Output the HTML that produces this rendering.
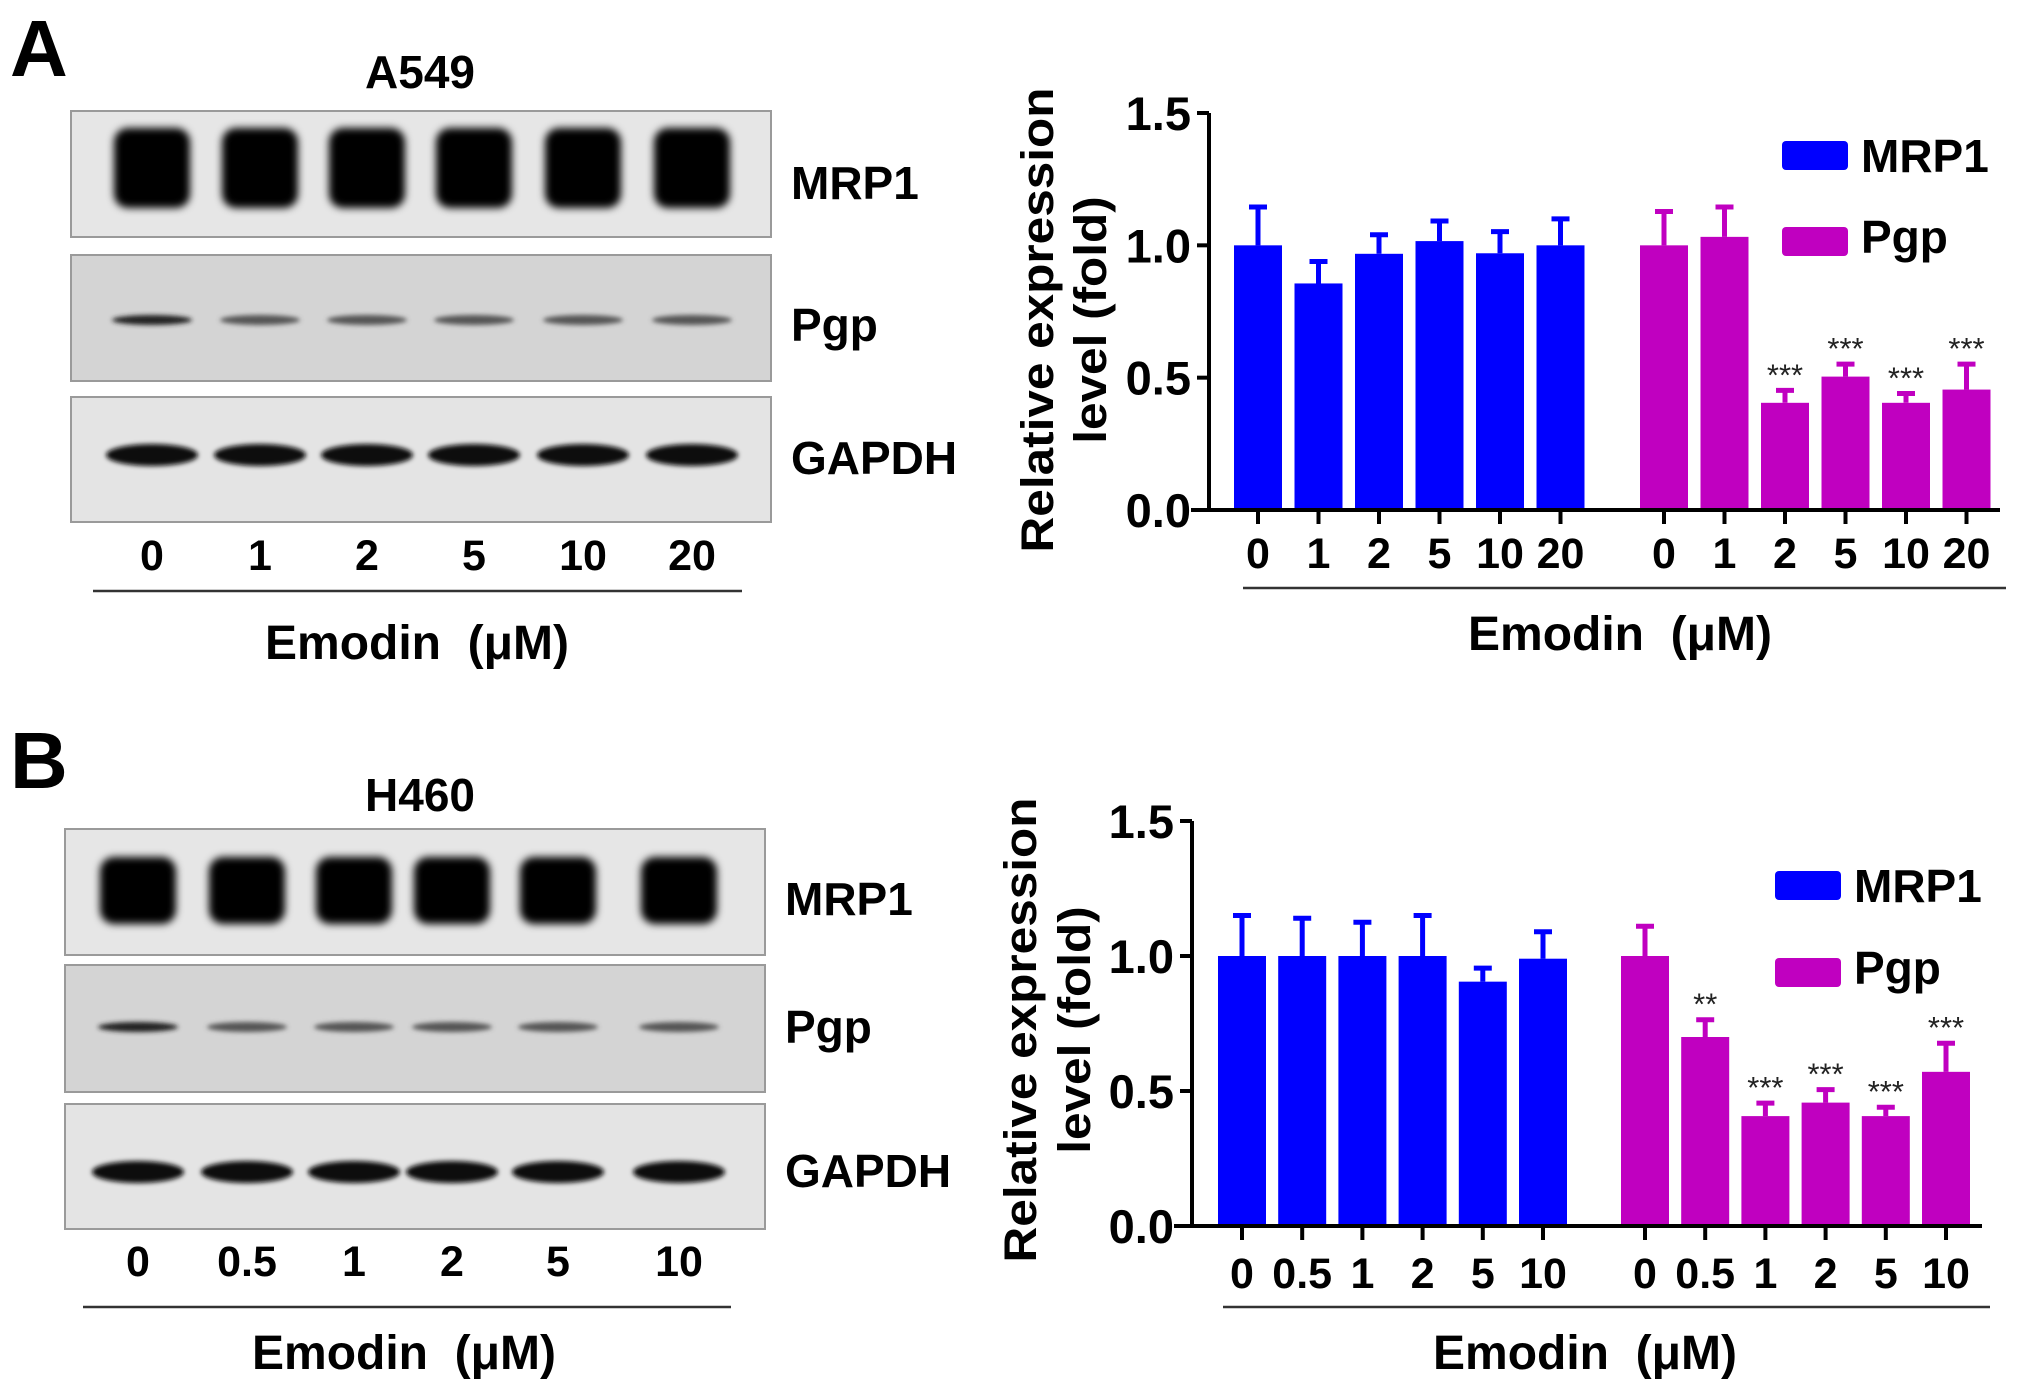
<!DOCTYPE html>
<html><head><meta charset="utf-8">
<style>
html,body{margin:0;padding:0;background:#fff;}
svg{display:block;font-family:"Liberation Sans",Arial,sans-serif;font-weight:bold;}
text{white-space:pre;}
</style></head>
<body>
<svg id="fig" width="2031" height="1389" viewBox="0 0 2031 1389" xmlns="http://www.w3.org/2000/svg">
<defs>
<filter id="blur4" x="-30%" y="-60%" width="160%" height="220%"><feGaussianBlur stdDeviation="4"/></filter>
<filter id="blur2" x="-30%" y="-100%" width="160%" height="300%"><feGaussianBlur stdDeviation="2.5"/></filter>
</defs>
<g id="root"></g>
</svg>
<script>
// ---------- Panel A data ----------
const aCategories = ["0","1","2","5","10","20"];
const aMrp1 = [1.0, 0.856, 0.968, 1.016, 0.97, 1.0];
const aMrp1Err = [1.145, 0.939, 1.04, 1.092, 1.052, 1.10];
const aPgp = [1.0, 1.032, 0.405, 0.504, 0.405, 0.455];
const aPgpErr = [1.128, 1.145, 0.452, 0.551, 0.44, 0.551];
const aPgpSig = ["", "", "***", "***", "***", "***"];
// ---------- Panel B data ----------
const bCategories = ["0","0.5","1","2","5","10"];
const bMrp1 = [1.0, 1.0, 1.0, 1.0, 0.905, 0.99];
const bMrp1Err = [1.15, 1.14, 1.125, 1.15, 0.955, 1.09];
const bPgp = [1.0, 0.70, 0.407, 0.457, 0.407, 0.571];
const bPgpErr = [1.11, 0.764, 0.455, 0.505, 0.44, 0.677];
const bPgpSig = ["", "**", "***", "***", "***", "***"];
const yTicks = [0, 0.5, 1.0, 1.5];
const yTickLabels = ["0.0", "0.5", "1.0", "1.5"];

const NS = "http://www.w3.org/2000/svg";
const root = document.getElementById("root");
function el(tag, attrs, parent, text) {
  const e = document.createElementNS(NS, tag);
  for (const k in attrs) e.setAttribute(k, attrs[k]);
  if (text !== undefined) e.textContent = text;
  (parent || root).appendChild(e);
  return e;
}

function chart(cfg) {
  const g = el("g", {});
  
  
  const y = v => cfg.y0 - (cfg.y0 - cfg.y15) * v / 1.5;
  const xM = i => cfg.m0 + i * cfg.step;
  const xP = i => cfg.p0 + i * cfg.step;
  const bw = 48;
  function series(vals, errs, xf, color, nm, sig) {
    vals.forEach((v, i) => {
      const cx = xf(i);
      const r = el("rect", {x: cx - bw/2, y: y(v), width: bw, height: cfg.y0 - y(v), fill: color}, g);
      
      
      const e = el("path", {d: `M${cx},${y(v)}V${y(errs[i])}M${cx-9},${y(errs[i])}H${cx+9}`, stroke: color, "stroke-width": 5, fill: "none"}, g);
      
      
      if (sig && sig[i]) {
        const s = el("text", {x: cx, y: y(errs[i]) - 5, "text-anchor": "middle", "font-size": 31, "font-weight": "normal", fill: "#222"}, g, sig[i]);
        
        
      }
    });
  }
  series(cfg.mrp, cfg.mrpErr, xM, "#0000ff", "mrp1", null);
  series(cfg.pgp, cfg.pgpErr, xP, "#c000c0", "pgp", cfg.sig);
  const ax = el("path", {d: `M${cfg.ax},${cfg.y15}V${cfg.y0}M${cfg.ax-18},${cfg.y0}H${cfg.xEnd}`, stroke: "#000", "stroke-width": 4, fill: "none"}, g);
  
  
  yTicks.forEach((t, i) => {
    el("path", {d: `M${cfg.ax-12},${y(t)}H${cfg.ax}`, stroke: "#000", "stroke-width": 4}, g);
    const tl = el("text", {x: cfg.ax - 18, y: y(t) + 17, "text-anchor": "end", "font-size": 47}, g, yTickLabels[i]);
    
    
  });
  cfg.cats.forEach((c, i) => {
    [xM(i), xP(i)].forEach(cx => {
      el("path", {d: `M${cx},${cfg.y0}V${cfg.y0+14}`, stroke: "#000", "stroke-width": 4}, g);
      const t = el("text", {x: cx, y: cfg.labY, "text-anchor": "middle", "font-size": 43}, g, c);
      
      
    });
  });
  el("path", {d: `M${cfg.ulx1},${cfg.ulY}H${cfg.ulx2}`, stroke: "#333", "stroke-width": 2.5}, g);
  const xt = el("text", {x: cfg.xtX, y: cfg.xtY, "text-anchor": "middle", "font-size": 48}, g, "Emodin  (μM)");
  
  
  const yc = cfg.ytc;
  const t1 = el("text", {x: 0, y: 0, "text-anchor": "middle", "font-size": 45, transform: `translate(${cfg.ytx1},${yc}) rotate(-90) scale(1.1,1)`}, g, "Relative expression");
  
  
  const t2 = el("text", {x: 0, y: 0, "text-anchor": "middle", "font-size": 45, transform: `translate(${cfg.ytx2},${yc}) rotate(-90) scale(1.1,1)`}, g, "level (fold)");
  
  
  const l1 = el("rect", {x: cfg.lgx, y: cfg.lgy1, width: 66, height: 29, rx: 4, fill: "#0000ff"}, g);
  
  
  const lt1 = el("text", {x: cfg.lgx + 79, y: cfg.lgy1 + 31, "font-size": 46}, g, "MRP1");
  
  
  const l2 = el("rect", {x: cfg.lgx, y: cfg.lgy2, width: 66, height: 29, rx: 4, fill: "#c000c0"}, g);
  
  
  const lt2 = el("text", {x: cfg.lgx + 79, y: cfg.lgy2 + 26, "font-size": 46}, g, "Pgp");
  
  
}

chart({name: "chart-a", cats: aCategories, mrp: aMrp1, mrpErr: aMrp1Err, pgp: aPgp, pgpErr: aPgpErr, sig: aPgpSig,
  ax: 1209, y0: 510, y15: 113, m0: 1258, p0: 1664, step: 60.5, xEnd: 2000, labY: 568,
  ulx1: 1243, ulx2: 2006, ulY: 588, xtX: 1620, xtY: 650, ytc: 320, ytx1: 1053, ytx2: 1106, lgx: 1782, lgy1: 141, lgy2: 227});
chart({name: "chart-b", cats: bCategories, mrp: bMrp1, mrpErr: bMrp1Err, pgp: bPgp, pgpErr: bPgpErr, sig: bPgpSig,
  ax: 1192, y0: 1226, y15: 821, m0: 1242, p0: 1645, step: 60.2, xEnd: 1982, labY: 1288,
  ulx1: 1223, ulx2: 1990, ulY: 1307, xtX: 1585, xtY: 1369, ytc: 1030, ytx1: 1036, ytx2: 1090, lgx: 1775, lgy1: 871, lgy2: 958});

function blot(cfg) {
  const g = el("g", {});
  
  
  const L = el("text", {x: 10, y: cfg.letterY, "font-size": 80}, g, cfg.letter);
  
  
  const T = el("text", {x: 420, y: cfg.titleY, "text-anchor": "middle", "font-size": 46}, g, cfg.title);
  
  
  const names = ["MRP1", "Pgp", "GAPDH"];
  const fills = ["#e6e6e6", "#d4d4d4", "#e4e4e4"];
  cfg.boxes.forEach((b, k) => {
    const r = el("rect", {x: cfg.bx1, y: b[0], width: cfg.bx2 - cfg.bx1, height: b[1] - b[0], fill: fills[k], stroke: "#9a9a9a", "stroke-width": 2}, g);
    
    
    const t = el("text", {x: cfg.bx2 + 20, y: cfg.labBase[k], "font-size": 46}, g, names[k]);
    
    
  });
  cfg.lanes.forEach((cx, i) => {
    el("rect", {x: cx - 38, y: cfg.mrpBand[0], width: 76, height: cfg.mrpBand[1] - cfg.mrpBand[0], rx: 14, fill: "#050505", filter: "url(#blur4)"}, g);
    el("ellipse", {cx: cx, cy: cfg.pgpY, rx: 40, ry: 5, fill: i === 0 ? "#222" : "#555", filter: "url(#blur2)"}, g);
    el("ellipse", {cx: cx, cy: cfg.gapY, rx: 46, ry: 11, fill: "#080808", filter: "url(#blur2)"}, g);
    const n = el("text", {x: cx, y: cfg.numY, "text-anchor": "middle", "font-size": 43}, g, cfg.cats[i]);
    
    
  });
  el("path", {d: `M${cfg.ul[0]},${cfg.ul[2]}H${cfg.ul[1]}`, stroke: "#333", "stroke-width": 2.5}, g);
  const e = el("text", {x: cfg.emX, y: cfg.emY, "text-anchor": "middle", "font-size": 48}, g, "Emodin  (μM)");
  
  
}
blot({name: "blot-a549", letter: "A", letterY: 76, title: "A549", titleY: 88, bx1: 71, bx2: 771,
  boxes: [[111, 237], [255, 381], [397, 522]], labBase: [199, 341, 474],
  lanes: [152, 260, 367, 474, 583, 692], cats: aCategories, mrpBand: [128, 208], pgpY: 320, gapY: 455,
  numY: 570, ul: [93, 742, 591], emX: 417, emY: 659});
blot({name: "blot-h460", letter: "B", letterY: 788, title: "H460", titleY: 811, bx1: 65, bx2: 765,
  boxes: [[829, 955], [965, 1092], [1104, 1229]], labBase: [915, 1043, 1187],
  lanes: [138, 247, 354, 452, 558, 679], cats: bCategories, mrpBand: [857, 924], pgpY: 1027, gapY: 1172,
  numY: 1276, ul: [83, 731, 1307], emX: 404, emY: 1369});
</script>
</body></html>
